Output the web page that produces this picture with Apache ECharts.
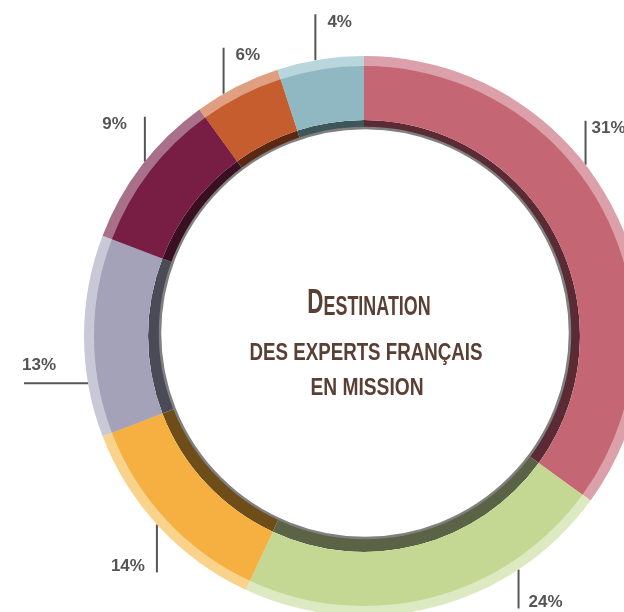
<!DOCTYPE html>
<html>
<head>
<meta charset="utf-8">
<script src="https://cdn.jsdelivr.net/npm/echarts@6/dist/echarts.min.js"></script>
<style>
  html, body { margin: 0; padding: 0; background: #fff; }
  #main { width: 624px; height: 612px; }
</style>
</head>
<body>
<div id="main"></div>
<script>
// printed percentages, clockwise from the top
const labels = ['31%', '24%', '14%', '13%', '9%', '6%', '4%'];
// size of each arc as drawn (degrees) - the picture does not draw them to scale
const arcDeg = [126, 79, 44, 42, 33, 18, 18];

const mainColors = ['#c46674', '#c4d894', '#f5b041', '#a3a2b8', '#781e45', '#c65d2f', '#8fb8c3'];
const lightColors = ['#dca0aa', '#dde9c1', '#f9d38c', '#c9c8d6', '#a97089', '#e09f80', '#b8d6dc'];
const darkColors = ['#5b2b35', '#5a6345', '#6e4d18', '#4b4b57', '#3a0f22', '#5a2813', '#3e5559'];

const cx = 364, cy = 336, rOut = 280;
const font = '"Liberation Sans", Arial, sans-serif';
const brown = '#5a4034';

// where each label line leaves the ring (angle clockwise from top)
const labelGeo = [
  { a: 52.3, dir: 'up', len: 44, side: 'right', gap: 6 },
  { a: 146.5, dir: 'down', len: 39, side: 'right', gap: 10 },
  { a: 227.7, dir: 'down', len: 48, side: 'left', gap: 12 },
  { a: 260.3, dir: 'left', len: 64 },
  { a: 308.5, dir: 'up', len: 45, side: 'left', gap: 18 },
  { a: 329.9, dir: 'up', len: 46, side: 'right', gap: 12 },
  { a: 350, dir: 'up', len: 46, side: 'right', gap: 12 }
];

function makeData(colors) {
  return arcDeg.map((v, i) => ({ name: labels[i], value: v, itemStyle: { color: colors[i] } }));
}

let myChart = echarts.init(document.getElementById('main'));

const base = {
  type: 'pie',
  center: [cx, cy],
  startAngle: 90,
  clockwise: true,
  silent: true,
  animation: false,
  itemStyle: { borderWidth: 0 },
  label: { show: false },
  labelLine: { show: false }
};

myChart.setOption({
  backgroundColor: '#fff',
  series: [
    Object.assign({}, base, {
      radius: [0, 216],
      data: makeData(darkColors)
    }),
    Object.assign({}, base, {
      radius: [216, rOut],
      data: makeData(lightColors),
      label: {
        show: true,
        position: 'outside',
        formatter: '{b}',
        overflow: 'none',
        color: '#555',
        fontFamily: font,
        fontWeight: 'bold',
        fontSize: 17
      },
      labelLine: { show: true, lineStyle: { color: '#555', width: 2 } },
      labelLayout: function (p) {
        const g = labelGeo[p.dataIndex];
        const rad = g.a * Math.PI / 180;
        const x0 = cx + rOut * Math.sin(rad);
        const y0 = cy - rOut * Math.cos(rad);
        let x1 = x0, y1 = y0, tx, ty, align;
        if (g.dir === 'up') {
          y1 = y0 - g.len;
          ty = y1 + 8;
        } else if (g.dir === 'down') {
          y1 = y0 + g.len;
          ty = y1 - 6;
        } else {
          x1 = x0 - g.len;
        }
        if (g.dir === 'left') {
          tx = x1 - 2; ty = y0 - 18; align = 'left';
        } else if (g.side === 'right') {
          tx = x1 + g.gap; align = 'left';
        } else {
          tx = x1 - g.gap; align = 'right';
        }
        return {
          x: tx, y: ty, align: align, verticalAlign: 'middle',
          hideOverlap: false,
          labelLinePoints: [[x0, y0], [x1, y1], [x1, y1]]
        };
      }
    }),
    Object.assign({}, base, {
      radius: [216, 270],
      data: makeData(mainColors)
    })
  ],
  graphic: [
    {
      type: 'circle',
      z: 100,
      shape: { cx: 365, cy: 333, r: 205 },
      style: { fill: '#fff', stroke: '#808080', lineWidth: 2.5 }
    },
    {
      type: 'text',
      z: 101,
      x: 369,
      y: 321,
      scaleX: 0.64,
      style: {
        text: '{d|D}{a|ESTINATION}',
        align: 'center',
        verticalAlign: 'bottom',
        fill: brown,
        fontFamily: font,
        fontWeight: 'bold',
        rich: {
          d: { fontSize: 35, lineHeight: 35, fontFamily: font, fontWeight: 'bold', fill: brown, verticalAlign: 'bottom' },
          a: { fontSize: 28, lineHeight: 35, fontFamily: font, fontWeight: 'bold', fill: brown, verticalAlign: 'bottom' }
        }
      }
    },
    {
      type: 'text',
      z: 101,
      x: 366,
      y: 353,
      scaleX: 0.78,
      style: {
        text: 'DES EXPERTS FRANÇAIS',
        align: 'center',
        verticalAlign: 'middle',
        fill: brown,
        fontFamily: font,
        fontWeight: 'bold',
        fontSize: 24
      }
    },
    {
      type: 'text',
      z: 101,
      x: 367,
      y: 388,
      scaleX: 0.8,
      style: {
        text: 'EN MISSION',
        align: 'center',
        verticalAlign: 'middle',
        fill: brown,
        fontFamily: font,
        fontWeight: 'bold',
        fontSize: 24
      }
    }
  ]
});
</script>
</body>
</html>
